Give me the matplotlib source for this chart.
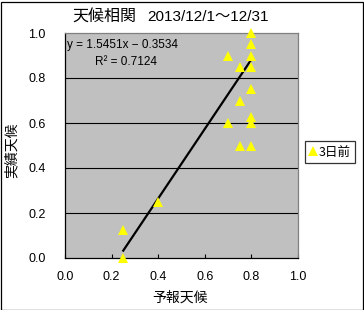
import matplotlib
matplotlib.use("Agg")
import matplotlib.pyplot as plt
from matplotlib.patches import Rectangle
import numpy as np

plt.rcParams['font.family'] = ['Liberation Sans', 'Noto Sans CJK JP', 'DejaVu Sans']
JP = ['Noto Sans CJK JP', 'DejaVu Sans']

# Data (forecast vs actual weather score)
forecast = [0.80, 0.80, 0.70, 0.80, 0.75, 0.80, 0.80, 0.75, 0.80, 0.70, 0.80, 0.75, 0.80, 0.25, 0.40, 0.25]
actual = [1.00, 0.95, 0.90, 0.90, 0.85, 0.85, 0.75, 0.70, 0.625, 0.60, 0.60, 0.50, 0.50, 0.125, 0.25, 0.00]
slope = 1.5451
intercept = -0.3534
r2 = 0.7124
ticks = [0.0, 0.2, 0.4, 0.6, 0.8, 1.0]
series_name = "3日前"
title_jp = "天候相関"
title_date = "2013/12/1～12/31"
xlabel = "予報天候"
ylabel = "実績天候"

W, H = 364, 310
fig = plt.figure(figsize=(W / 100, H / 100), dpi=100)
fig.patch.set_facecolor('white')

L, R, T, B = 65, 298, 33, 258
ax = fig.add_axes([L / W, 1 - B / H, (R - L) / W, (B - T) / H])
ax.set_facecolor('#C0C0C0')
ax.set_xlim(0, 1)
ax.set_ylim(0, 1)

for y in ticks[1:-1]:
    ax.axhline(y, color='black', lw=0.8, zorder=1)

xs = np.array([min(forecast), max(forecast)])
ax.plot(xs, slope * xs + intercept, color='black', lw=1.6, zorder=2)
ax.plot(forecast, actual, linestyle='none', marker='^', markersize=7,
        color='#FFFF00', markeredgewidth=0, zorder=3, clip_on=False, label=series_name)

ax.set_xticks(ticks)
ax.set_yticks(ticks)
ax.set_xticklabels([f"{t:.1f}" for t in ticks], fontsize=9)
ax.set_yticklabels([f"{t:.1f}" for t in ticks], fontsize=9)
ax.tick_params(axis='x', direction='in', length=3, width=0.8, pad=9)
ax.tick_params(axis='y', length=0, pad=14)

ax.spines['left'].set_color('black')
ax.spines['bottom'].set_color('black')
ax.spines['top'].set_color('#808080')
ax.spines['right'].set_color('#808080')
for s in ax.spines.values():
    s.set_linewidth(0.9)

fig.text(67 / W, 1 - 45 / H, f"y = {slope:.4f}x − {abs(intercept):.4f}",
         fontsize=8.5, va='center', ha='left')
fig.text(95 / W, 1 - 62 / H, f"R² = {r2:.4f}", fontsize=8.5, va='center', ha='left')

fig.text(72 / W, 1 - 16 / H, title_jp, fontsize=11.5, ha='left', va='center', family=JP)
fig.text(147 / W, 1 - 17 / H, title_date, fontsize=11, ha='left', va='center')
fig.text(180 / W, 1 - 298 / H, xlabel, fontsize=10, ha='center', va='center', family=JP)
fig.text(12 / W, 1 - 150 / H, ylabel, fontsize=10, ha='center', va='center', rotation=90, family=JP)

leg = ax.legend(loc='center', bbox_to_anchor=(330 / W, 1 - 152 / H),
                bbox_transform=fig.transFigure, frameon=True, fancybox=False,
                handlelength=0.6, handletextpad=0.1, borderpad=0.35,
                borderaxespad=0, markerscale=1.0, prop={'family': JP, 'size': 9})
leg.get_frame().set_edgecolor('black')
leg.get_frame().set_linewidth(0.9)

fig.add_artist(Rectangle((0.5 / W, 0.5 / H), 1 - 1.5 / W, 1 - 2.5 / H,
                         transform=fig.transFigure, fill=False, edgecolor='black', lw=0.9))

fig.savefig("out.png", dpi=100)
